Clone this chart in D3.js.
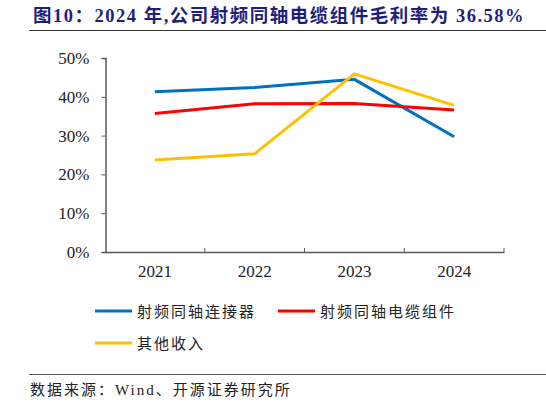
<!DOCTYPE html>
<html>
<head>
<meta charset="utf-8">
<script src="https://cdn.jsdelivr.net/npm/d3@7"></script>
<style>
  body { margin: 0; background: #fff; }
  svg { display: block; }
</style>
</head>
<body>
<svg></svg>
<script>
const years = ["2021", "2022", "2023", "2024"];
const connector = [41.3, 42.4, 44.5, 29.7];   // 射频同轴连接器
const cableAssy = [35.7, 38.2, 38.3, 36.58];  // 射频同轴电缆组件
const otherIncome = [23.7, 25.3, 45.9, 37.8]; // 其他收入
const yTicks = [0, 10, 20, 30, 40, 50];

const series = [
    { name: "射频同轴连接器", values: connector, color: "#0070c0" },
    { name: "射频同轴电缆组件", values: cableAssy, color: "#ff0000" },
    { name: "其他收入", values: otherIncome, color: "#ffc000" }
];

const width = 546, height = 404;
const svg = d3.select("svg").attr("width", width).attr("height", height);

const serif = "'Times New Roman', 'Liberation Serif', 'DejaVu Serif', serif";
const cjk = "'Noto Sans CJK SC', sans-serif";

// title
svg.append("text")
    .attr("x", 33).attr("y", 22)
    .attr("fill", "#1f1f7a")
    .style("font-family", "'Liberation Serif', 'Noto Sans CJK SC', serif")
    .style("font-weight", "bold")
    .style("font-size", "18.5px")
    .style("letter-spacing", "1.5px")
    .text("图10：2024 年,公司射频同轴电缆组件毛利率为 36.58%");

svg.append("line")
    .attr("x1", 29).attr("x2", 546).attr("y1", 30.5).attr("y2", 30.5)
    .attr("stroke", "#333").attr("stroke-width", 1);

const x = d3.scaleBand().domain(years).range([105, 504]);
const y = d3.scaleLinear().domain([0, 50]).range([252, 58]);

// y axis
const yAxis = svg.append("g")
    .attr("transform", "translate(105.5,0)")
    .call(d3.axisLeft(y).tickValues(yTicks).tickFormat(d => d + "%").tickSize(4).tickPadding(12));
yAxis.attr("font-family", serif).attr("font-size", 17);
yAxis.select(".domain").attr("stroke", "#595959").attr("stroke-width", 1.5);
yAxis.selectAll(".tick line").attr("stroke", "#595959");
yAxis.selectAll("text").style("font-family", serif).attr("fill", "#222");

// x axis
const xAxis = svg.append("g")
    .attr("transform", "translate(0,252)")
    .call(d3.axisBottom(x).tickSize(0).tickPadding(13));
xAxis.attr("font-family", serif).attr("font-size", 17);
xAxis.select(".domain").attr("stroke", "#595959").attr("stroke-width", 1.5);
xAxis.selectAll("text").style("font-family", serif).attr("fill", "#222");
xAxis.selectAll(".bound")
    .data(years.map(d => x(d)).concat([x.range()[1]]).slice(1))
    .enter().append("line")
    .attr("x1", d => d).attr("x2", d => d)
    .attr("y1", 0).attr("y2", -4)
    .attr("stroke", "#595959");

// lines
const line = d3.line()
    .x((d, i) => x(years[i]) + x.bandwidth() / 2)
    .y(d => y(d));

svg.selectAll(".series")
    .data(series)
    .enter().append("path")
    .attr("class", "series")
    .attr("d", d => line(d.values))
    .attr("fill", "none")
    .attr("stroke", d => d.color)
    .attr("stroke-width", 3);

// legend
const legendPos = [[95, 311], [278, 311], [95, 343]];
const legend = svg.selectAll(".legend")
    .data(series)
    .enter().append("g")
    .attr("class", "legend")
    .attr("transform", (d, i) => "translate(" + legendPos[i][0] + "," + legendPos[i][1] + ")");
legend.append("line")
    .attr("x1", 0).attr("x2", 37).attr("y1", 0).attr("y2", 0)
    .attr("stroke", d => d.color).attr("stroke-width", 3);
legend.append("text")
    .attr("x", 42).attr("y", 5.5)
    .style("font-family", cjk).style("font-size", "15px")
    .style("letter-spacing", "2px")
    .attr("fill", "#222")
    .text(d => d.name);

// source
svg.append("line")
    .attr("x1", 29).attr("x2", 546).attr("y1", 374.5).attr("y2", 374.5)
    .attr("stroke", "#555").attr("stroke-width", 1);
svg.append("text")
    .attr("x", 30).attr("y", 395)
    .style("font-family", "'Liberation Serif', 'Noto Sans CJK SC', serif")
    .style("font-size", "15px")
    .style("letter-spacing", "2px")
    .attr("fill", "#222")
    .text("数据来源：Wind、开源证券研究所");
</script>
</body>
</html>
